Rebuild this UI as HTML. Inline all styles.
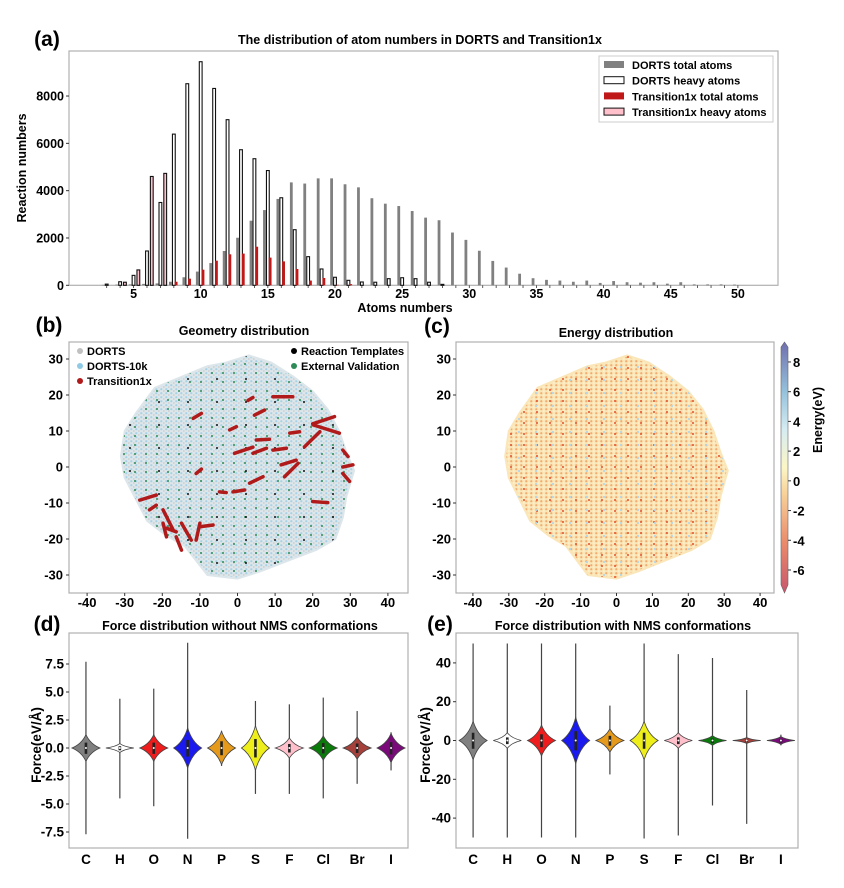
<!DOCTYPE html>
<html><head><meta charset="utf-8"><style>
html,body{margin:0;padding:0;background:#fff;}
svg{display:block;font-family:"Liberation Sans",sans-serif;font-weight:bold;}
</style></head><body>
<svg id="fig" width="844" height="888" viewBox="0 0 844 888" xmlns="http://www.w3.org/2000/svg">
<defs>
<pattern id="dotsB" width="5" height="4" patternUnits="userSpaceOnUse"><rect width="5" height="4" fill="#dde6ea"/><circle cx="1.3" cy="1.2" r="1.1" fill="#a6d2e6"/><circle cx="3.8" cy="3" r="0.9" fill="#cdcdcd"/></pattern>
<pattern id="greenB" width="11" height="9" patternUnits="userSpaceOnUse"><circle cx="3" cy="4" r="1" fill="#2e8b57"/></pattern>
<pattern id="blackB" width="29" height="23" patternUnits="userSpaceOnUse"><circle cx="14" cy="11" r="1" fill="#111"/></pattern>
<pattern id="dotsC" width="5" height="4" patternUnits="userSpaceOnUse"><rect width="5" height="4" fill="#fae6b8"/><circle cx="1.3" cy="1.2" r="1.1" fill="#f2ab6e"/><circle cx="3.8" cy="3" r="0.9" fill="#fcf3cc"/></pattern>
<pattern id="redC" width="13" height="11" patternUnits="userSpaceOnUse"><circle cx="4" cy="5" r="1" fill="#e2502f"/></pattern>
<pattern id="blueC" width="17" height="13" patternUnits="userSpaceOnUse"><circle cx="9" cy="3" r="1.1" fill="#b5d7e8"/></pattern>
<linearGradient id="cbar" x1="0" y1="1" x2="0" y2="0">
<stop offset="0" stop-color="#c8566c"/><stop offset="0.2" stop-color="#ea8a6a"/><stop offset="0.4" stop-color="#f8d39a"/><stop offset="0.5" stop-color="#fcf6c6"/><stop offset="0.65" stop-color="#d6ecf2"/><stop offset="0.8" stop-color="#95c2dc"/><stop offset="1" stop-color="#6f6fae"/>
</linearGradient>
</defs>
<g id="root"></g>
</svg>
<script>
// ===== Panel (a) data =====
const atomNums = [3,4,5,6,7,8,9,10,11,12,13,14,15,16,17,18,19,20,21,22,23,24,25,26,27,28,29,30,31,32,33,34,35,36,37,38,39,40,41,42,43,44,45,46,47,48,49,50];
const dortsTotal = [20,30,40,60,80,150,340,580,940,1450,2010,2730,3180,3650,4350,4300,4520,4520,4270,4140,3680,3450,3350,3140,2860,2750,2230,1920,1460,1030,750,490,300,230,200,150,200,100,180,130,110,130,70,130,40,40,40,30];
const dortsHeavy = [50,150,420,1450,3500,6390,8520,9450,8320,7000,5730,5350,4850,3700,2350,1210,690,340,210,140,130,280,320,280,130,40,0,0,0,0,0,0,0,0,0,0,0,0,0,0,0,0,0,0,0,0,0,0];
const t1xTotal = [0,0,0,0,0,150,280,660,1040,1310,1340,1630,1170,1010,690,200,310,20,50,0,0,0,0,0,0,0,0,0,0,0,0,0,0,0,0,0,0,0,0,0,0,0,0,0,0,0,0,0];
const t1xHeavy = [0,130,650,4600,4730,0,0,0,0,0,0,0,0,0,0,0,0,0,0,0,0,0,0,0,0,0,0,0,0,0,0,0,0,0,0,0,0,0,0,0,0,0,0,0,0,0,0,0];
const aXTicks = [5,10,15,20,25,30,35,40,45,50];
const aYTicks = [0,2000,4000,6000,8000];
// ===== Panel (b) data =====
const bTicks = [-40,-30,-20,-10,0,10,20,30,40];
const bYTicks = [-30,-20,-10,0,10,20,30];
const cloudX = [-31,-30,-27,-22,-15,-8,-3,3,9,15,20,24,27,29,31,29,28,26,21,16,11,6,0,-8,-11,-14,-19,-24,-27,-30];
const cloudY = [3,10,15,22,25,28,29,31,29,25,21,16,10,4,-1,-8,-14,-20,-23,-25,-27,-29,-31,-30,-26,-22,-19,-15,-9,-3];
const t1xArcX1 = [9.4,2.8,20,20.1,17.8,13.9,5,4.5,-11.8,-2.1,-0.8,4.1,9.4,11.6,12.5,28,28,28,20,3.2,-1.2,-4.8,-11,-26,-23.4,-19.8,-19.8,-18.9,-16.3,-14.9,-11,-10];
const t1xArcY1 = [19.5,18.5,12,11.7,5.6,9.4,7.5,14.4,13.5,10.3,3.8,3.8,4.7,0.6,-2.7,4.7,0,-1.8,-9.6,-4.5,-6.9,-6.9,-1.8,-9.2,-11.9,-11.9,-15.6,-17,-19.4,-15.6,-20.3,-16.6];
const t1xArcX2 = [14.7,4.1,25.8,27.1,21.9,16.5,8.5,7.2,-9.6,-0.3,4.1,7.7,13,15.6,16.1,29.4,30.7,29.8,24,6.8,1.9,-3,-9.6,-21.6,-21.6,-17.1,-18.9,-16.3,-14.9,-12.3,-10,-6.5];
const t1xArcY2 = [19.5,19.3,14,9.4,9.8,9.8,7.7,15.8,14.9,11.2,5.5,5.2,5.2,1.9,1,2.9,0.6,-4,-9.9,-2.7,-6.4,-7.1,-0.6,-7.8,-10.6,-17.5,-19.4,-18,-23.1,-20.3,-15.6,-16.1];
// ===== Panel (c) data =====
const cbTicks = [-6,-4,-2,0,2,4,6,8];
// ===== Panels (d),(e) data =====
const elements = ["C","H","O","N","P","S","F","Cl","Br","I"];
const violinColors = ["#808080","#ffffff","#ee1c1c","#1a1aee","#e69a1c","#eeee1a","#ffc0cb","#0a7a0a","#a5403a","#7a0a7a"];
const dMax = [7.7,4.4,5.3,9.4,1.5,4.2,3.9,4.5,3.3,1.4];
const dMin = [-7.7,-4.5,-5.2,-8.1,-1.6,-4.1,-4.1,-4.5,-3.2,-2.0];
const dSpread = [1.2,0.4,1.2,1.8,1.5,2.0,0.9,1.1,1.0,1.3];
const dTicks = [-7.5,-5.0,-2.5,0.0,2.5,5.0,7.5];
const eMax = [50,50,50,50,18,50,44.5,42.5,26,3];
const eMin = [-50,-50,-50,-50,-17.5,-50.5,-49,-33.5,-43,-2.5];
const eSpread = [10,4,8,12,6,10,4,2.5,1.5,2];
const eTicks = [-40,-20,0,20,40];

const NS = "http://www.w3.org/2000/svg";
const root = document.getElementById('root');
function mk(tag, attrs, parent, text){
  const e = document.createElementNS(NS, tag);
  for (const k in attrs) e.setAttribute(k, attrs[k]);
  if (text !== undefined) e.textContent = text;
  (parent || root).appendChild(e);
  return e;
}
function txt(x,y,s,size,anchor,parent,rot){
  const t = mk('text',{x:x,y:y,'font-size':size,'text-anchor':anchor||'middle',fill:'#000'},parent,s);
  if (rot) t.setAttribute('transform','rotate(-90 '+x+' '+y+')');
  return t;
}

// ================= Panel (a) =================
const ga = mk('g',{});


const aX = n => 200.7 + (n-10)*13.43;
const aY = v => 285.3 - v*0.02366;
const lab = txt(47,46,'(a)',21,'middle',ga);
 
const ta = txt(420,44,'The distribution of atom numbers in DORTS and Transition1x',12.5,'middle',ga);
 
mk('rect',{x:69,y:51,width:709,height:234.3,fill:'none',stroke:'#b0b0b0','stroke-width':1.2},ga);
function bar(x,v,fill,stroke,name){
  if (v<=0) return;
  const r = mk('rect',{x:x-1.4,y:aY(v),width:2.8,height:285.3-aY(v),fill:fill,stroke:stroke||'none','stroke-width':stroke?1.1:0},ga);
  
  
}
atomNums.forEach((n,i)=>{
  bar(aX(n)-3.4,dortsTotal[i],'#808080',null,'bar-dorts-total-'+n);
  bar(aX(n),dortsHeavy[i],'#ffffff','#111','bar-dorts-heavy-'+n);
  bar(aX(n)+2.3,t1xTotal[i],'#c01818',null,'bar-t1x-total-'+n);
  bar(aX(n)+4.8,t1xHeavy[i],'#ffc0cb','#111','bar-t1x-heavy-'+n);
  mk('line',{x1:aX(n),x2:aX(n),y1:285.3,y2:288,stroke:'#333','stroke-width':0.8},ga);
});
aXTicks.forEach(t=>{ txt(aX(t),298,String(t),12.5,'middle',ga); });
aYTicks.forEach(t=>{ mk('line',{x1:66,x2:69,y1:aY(t),y2:aY(t),stroke:'#333'},ga); txt(64,aY(t)+4.5,String(t),12.5,'end',ga); });
const axl = txt(405,312,'Atoms numbers',12.5,'middle',ga);
 
const ayl = txt(26,168,'Reaction numbers',12.5,'middle',ga,true);
 
const lg = mk('g',{}, ga);
 
mk('rect',{x:599,y:56,width:174,height:66,fill:'#fff',stroke:'#ccc'},lg);
const legItems = [['DORTS total atoms','#808080','none'],['DORTS heavy atoms','#fff','#111'],['Transition1x total atoms','#c01818','none'],['Transition1x heavy atoms','#ffc0cb','#111']];
legItems.forEach((it,i)=>{
  const y = 65+i*15.7;
  const e = mk('g',{},lg);
   
  mk('rect',{x:604,y:y-4,width:20,height:7,fill:it[1],stroke:it[2],'stroke-width':1},e);
  txt(632,y+4,it[0],11,'start',e);
});

// ================= Panel (b) =================
const gb = mk('g',{});
 
const bX = v => 237.5 + v*3.76;
const bY = v => 467 - v*3.6;
const lb = txt(49,332,'(b)',21,'middle',gb);
 
const tb = txt(244,335,'Geometry distribution',12.5,'middle',gb);
 
mk('rect',{x:69,y:342,width:339,height:251,fill:'#fff',stroke:'#b0b0b0','stroke-width':1.2},gb);
function cloudPath(xf,yf){
  let d='';
  cloudX.forEach((x,i)=>{ d += (i?'L':'M')+xf(x).toFixed(1)+' '+yf(cloudY[i]).toFixed(1); });
  return d+'Z';
}
const cb1 = mk('path',{d:cloudPath(bX,bY),fill:'url(#dotsB)','stroke':'#dde6ea','stroke-width':2,'stroke-linejoin':'round'},gb);
 
const cg = mk('path',{d:cloudPath(bX,bY),fill:'url(#greenB)'},gb);
 
const ck = mk('path',{d:cloudPath(bX,bY),fill:'url(#blackB)'},gb);
 
t1xArcX1.forEach((x,i)=>{
  const l = mk('line',{x1:bX(x),y1:bY(t1xArcY1[i]),x2:bX(t1xArcX2[i]),y2:bY(t1xArcY2[i]),stroke:'#b01a1a','stroke-width':3.5,'stroke-linecap':'round'},gb);
   
});
bTicks.forEach(t=>{ mk('line',{x1:bX(t),x2:bX(t),y1:593,y2:596,stroke:'#333'},gb); txt(bX(t),607,String(t),13,'middle',gb); });
bYTicks.forEach(t=>{ mk('line',{x1:66,x2:69,y1:bY(t),y2:bY(t),stroke:'#333'},gb); txt(63,bY(t)+4.5,String(t),13,'end',gb); });
const lgb = mk('g',{},gb);
 
[['DORTS','#c0c0c0',80,351],['DORTS-10k','#8ecae6',80,366],['Transition1x','#b01a1a',80,381],['Reaction Templates','#000',294,351],['External Validation','#2e8b57',294,366]].forEach((it,i)=>{
  const e = mk('g',{},lgb);
   
  mk('circle',{cx:it[2],cy:it[3],r:3,fill:it[1]},e);
  txt(it[2]+7,it[3]+4,it[0],11,'start',e);
});

// ================= Panel (c) =================
const gc = mk('g',{});
 
const cX = v => 616.5 + v*3.59;
const cY = v => 467 - v*3.6;
const lc = txt(437,333,'(c)',21,'middle',gc);
 
const tc = txt(616,337,'Energy distribution',12.5,'middle',gc);
 
mk('rect',{x:456,y:342,width:318,height:251,fill:'#fff',stroke:'#b0b0b0','stroke-width':1.2},gc);
const cc1 = mk('path',{d:cloudPath(cX,cY),fill:'url(#dotsC)',stroke:'#fae6b8','stroke-width':2,'stroke-linejoin':'round'},gc);
 
mk('path',{d:cloudPath(cX,cY),fill:'url(#redC)'},gc);
mk('path',{d:cloudPath(cX,cY),fill:'url(#blueC)'},gc);
bTicks.forEach(t=>{ mk('line',{x1:cX(t),x2:cX(t),y1:593,y2:596,stroke:'#333'},gc); txt(cX(t),607,String(t),13,'middle',gc); });
bYTicks.forEach(t=>{ mk('line',{x1:453,x2:456,y1:cY(t),y2:cY(t),stroke:'#333'},gc); txt(451,cY(t)+4.5,String(t),13,'end',gc); });
const cbY = v => 570 - (v+6)*14.86;
const cbg = mk('g',{},gc);
 
mk('path',{d:'M781 '+cbY(9)+' L784.5 342 L788 '+cbY(9)+' L788 '+cbY(-7)+' L784.5 593 L781 '+cbY(-7)+' Z',fill:'url(#cbar)',stroke:'#666','stroke-width':0.6},cbg);
cbTicks.forEach(t=>{ mk('line',{x1:788,x2:791,y1:cbY(t),y2:cbY(t),stroke:'#333'},cbg); txt(793,cbY(t)+5,String(t),13,'start',cbg); });
const cbl = txt(822,420,'Energy(eV)',12.5,'middle',cbg,true);
 

// ================= Violins =================
function violinPanel(name, x0, w, yScale, maxs, mins, spreads, ticks, tickFmt, labX, labTxt, title, titleX){
  const g = mk('g',{});
   
  const l = txt(labX,631,labTxt,21,'middle',g);
   
  const t = txt(titleX,630,title,12.5,'middle',g);
   
  mk('rect',{x:x0,y:633,width:w,height:215,fill:'#fff',stroke:'#b0b0b0','stroke-width':1.2},g);
  const step = (w)/10.0;
  elements.forEach((el,i)=>{
    const cx = x0 + step*(i+0.5);
    const vg = mk('g',{},g);
     
    mk('line',{x1:cx,x2:cx,y1:yScale(maxs[i]),y2:yScale(mins[i]),stroke:'#444','stroke-width':1.2},vg);
    const hw = 14, top = yScale(spreads[i]), bot = yScale(-spreads[i]), mid = yScale(0);
    const h = (bot-top)/2;
    const d = 'M'+cx+' '+top+' Q'+(cx+hw*0.3)+' '+(mid-h*0.3)+' '+(cx+hw)+' '+mid+' Q'+(cx+hw*0.3)+' '+(mid+h*0.3)+' '+cx+' '+bot+
              ' Q'+(cx-hw*0.3)+' '+(mid+h*0.3)+' '+(cx-hw)+' '+mid+' Q'+(cx-hw*0.3)+' '+(mid-h*0.3)+' '+cx+' '+top+'Z';
    mk('path',{d:d,fill:violinColors[i],stroke:'#444','stroke-width':0.8},vg);
    mk('rect',{x:cx-1.3,y:yScale(spreads[i]*0.4),width:2.6,height:yScale(-spreads[i]*0.4)-yScale(spreads[i]*0.4)+0.5,fill:'#222'},vg);
    mk('circle',{cx:cx,cy:mid,r:1,fill:'#fff'},vg);
    txt(cx,864,el,13.5,'middle',g);
  });
  ticks.forEach(tk=>{ mk('line',{x1:x0-3,x2:x0,y1:yScale(tk),y2:yScale(tk),stroke:'#333'},g); txt(x0-5,yScale(tk)+4.5,tickFmt(tk),13.5,'end',g); });
  return g;
}
const dY = v => 748 - v*11.2;
violinPanel('panel-d-violin', 69, 339, dY, dMax, dMin, dSpread, dTicks, t=>t.toFixed(1), 47, '(d)', 'Force distribution without NMS conformations', 240);
const dyl = txt(41,745,'Force(eV/Å)',13.5,'middle',root,true);
 
const eY = v => 740.5 - v*1.94;
violinPanel('panel-e-violin', 456, 342, eY, eMax, eMin, eSpread, eTicks, t=>String(t), 440, '(e)', 'Force distribution with NMS conformations', 623);
const eyl = txt(430,745,'Force(eV/Å)',13.5,'middle',root,true);
 
</script>
</body></html>
